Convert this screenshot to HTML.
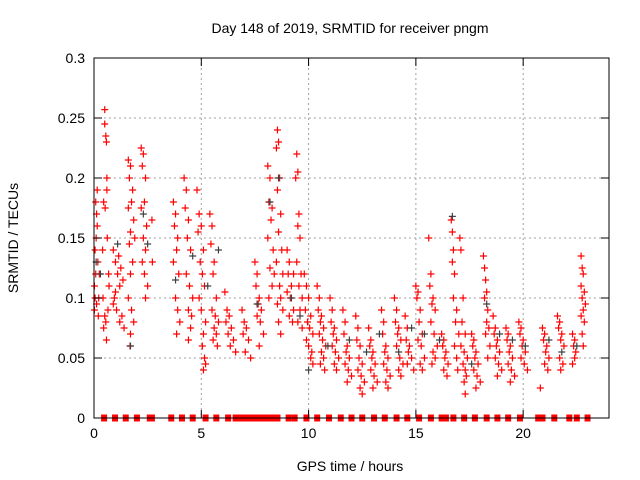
<!DOCTYPE html>
<html><head><meta charset="utf-8"><style>
body{margin:0;background:#fff}
svg{display:block;font-family:"Liberation Sans",sans-serif}
</style></head><body>
<svg id="chart" width="640" height="480" viewBox="0 0 640 480">
<rect width="640" height="480" fill="#fff"/>
<text x="350" y="33" font-size="14" text-anchor="middle">Day 148 of 2019, SRMTID for receiver pngm</text>
<text x="350" y="471" font-size="14" text-anchor="middle">GPS time / hours</text>
<text transform="translate(18,238) rotate(-90)" font-size="14" text-anchor="middle">SRMTID / TECUs</text>
<g id="grid"></g><g id="marks"></g><g id="axes"></g>
</svg>
<script>
const xTicks=[0,5,10,15,20];
const yTicks=[0,0.05,0.1,0.15,0.2,0.25,0.3];
const yTickLabels=["0","0.05","0.1","0.15","0.2","0.25","0.3"];
const redPoints=[
[0.02,0.09],[0.05,0.1],[0.08,0.12],[0.1,0.15],[0.12,0.17],[0.15,0.19],[0.05,0.14],[0.18,0.13],[0.02,0.11],[0.12,0.095],[0.2,0.085],[0.22,0.1],[0.15,0.16],[0.08,0.18],[0.25,0.12],
[0.5,0.257],[0.5,0.245],[0.55,0.235],[0.58,0.23],[0.6,0.2],[0.45,0.18],[0.52,0.175],[0.62,0.15],[0.4,0.14],[0.68,0.12],[0.42,0.1],[0.5,0.085],[0.55,0.08],[0.45,0.075],[0.58,0.065],[0.65,0.09],[0.7,0.11],[0.6,0.19],
[0.9,0.14],[1.0,0.13],[1.1,0.12],[1.2,0.11],[0.95,0.1],[1.05,0.09],[1.3,0.085],[1.2,0.08],[1.4,0.075],[1.35,0.115],[1.25,0.125],[1.15,0.135],[1.0,0.105],[0.9,0.095],
[1.6,0.215],[1.7,0.21],[1.65,0.2],[1.8,0.19],[1.75,0.18],[1.6,0.175],[1.85,0.165],[1.7,0.155],[1.9,0.15],[1.65,0.145],[1.8,0.13],[1.7,0.12],[1.6,0.1],[1.75,0.09],[1.85,0.08],[1.7,0.07],[1.68,0.06],
[2.2,0.225],[2.3,0.22],[2.25,0.21],[2.4,0.2],[2.35,0.18],[2.2,0.175],[2.45,0.16],[2.3,0.15],[2.4,0.14],[2.25,0.13],[2.35,0.12],[2.5,0.11],[2.4,0.1],[2.7,0.165],[2.72,0.13],
[3.7,0.18],[3.8,0.17],[3.75,0.16],[3.9,0.15],[3.85,0.14],[3.7,0.13],[3.95,0.12],[3.8,0.1],[3.9,0.09],[4.0,0.08],[3.85,0.07],
[4.2,0.2],[4.3,0.19],[4.25,0.175],[4.4,0.165],[4.35,0.15],[4.5,0.14],[4.3,0.12],[4.45,0.11],[4.6,0.1],[4.4,0.09],[4.55,0.085],[4.5,0.075],[4.4,0.065],
[4.8,0.19],[4.9,0.17],[5.0,0.16],[4.85,0.155],[5.1,0.14],[4.95,0.13],[5.05,0.12],[5.15,0.11],[4.9,0.1],[5.0,0.09],[5.2,0.08],[5.1,0.07],[5.05,0.06],[5.15,0.05],[5.2,0.045],[5.1,0.04],
[5.4,0.17],[5.5,0.16],[5.45,0.145],[5.6,0.13],[5.55,0.12],[5.7,0.1],[5.5,0.09],[5.65,0.085],[5.8,0.08],[5.6,0.075],[5.7,0.07],[5.55,0.065],[5.75,0.06],
[6.1,0.105],[6.2,0.09],[6.3,0.085],[6.15,0.08],[6.4,0.075],[6.25,0.07],[6.5,0.065],[6.35,0.06],[6.6,0.055],
[6.9,0.09],[7.0,0.08],[7.1,0.075],[6.95,0.07],[7.2,0.065],[7.05,0.055],[7.3,0.05],
[7.5,0.13],[7.6,0.12],[7.55,0.11],[7.7,0.1],[7.65,0.095],[7.8,0.09],[7.6,0.085],[7.75,0.08],[7.9,0.07],[7.7,0.06],
[8.1,0.21],[8.2,0.2],[8.15,0.18],[8.3,0.175],[8.25,0.165],[8.1,0.15],[8.35,0.14],[8.2,0.125],[8.4,0.12],[8.3,0.11],[8.15,0.1],
[8.55,0.24],[8.6,0.23],[8.5,0.225],[8.65,0.2],[8.55,0.19],[8.7,0.17],[8.6,0.155],[8.75,0.14],[8.5,0.13],[8.8,0.12],[8.65,0.11],[8.7,0.1],[8.55,0.095],[8.8,0.09],[8.6,0.08],[8.7,0.07],
[9.0,0.14],[9.1,0.13],[9.05,0.12],[9.2,0.11],[9.15,0.1],[9.3,0.09],[9.1,0.085],[9.25,0.08],[9.3,0.12],[9.0,0.105],
[9.45,0.22],[9.5,0.205],[9.4,0.2],[9.55,0.17],[9.5,0.16],[9.6,0.15],[9.45,0.13],[9.65,0.12],[9.55,0.11],[9.7,0.1],[9.6,0.09],[9.5,0.08],[9.7,0.075],
[9.8,0.12],[9.9,0.11],[10.0,0.1],[9.85,0.09],[10.1,0.085],[9.95,0.08],[10.05,0.075],[10.2,0.07],[9.9,0.065],[10.0,0.06],[10.15,0.055],[10.1,0.05],[10.2,0.045],
[10.4,0.11],[10.5,0.1],[10.45,0.09],[10.6,0.085],[10.55,0.08],[10.7,0.075],[10.5,0.07],[10.65,0.065],[10.8,0.06],[10.6,0.055],[10.7,0.05],[10.55,0.045],[10.75,0.04],
[11.0,0.1],[11.1,0.09],[11.05,0.08],[11.2,0.075],[11.15,0.07],[11.3,0.065],[11.1,0.06],[11.25,0.055],[11.4,0.05],[11.2,0.045],[11.3,0.04],
[11.6,0.09],[11.7,0.08],[11.65,0.07],[11.8,0.06],[11.75,0.055],[11.9,0.05],[11.7,0.045],[11.85,0.04],[12.0,0.035],[11.8,0.03],
[12.2,0.085],[12.3,0.075],[12.25,0.065],[12.4,0.06],[12.35,0.05],[12.5,0.045],[12.3,0.04],[12.45,0.035],[12.6,0.03],[12.4,0.025],[12.5,0.02],
[12.8,0.075],[12.9,0.065],[12.85,0.06],[13.0,0.055],[12.95,0.05],[13.1,0.045],[12.9,0.04],[13.05,0.035],[13.2,0.03],[13.0,0.025],
[13.4,0.09],[13.5,0.08],[13.45,0.07],[13.6,0.06],[13.55,0.055],[13.7,0.05],[13.5,0.045],[13.65,0.04],[13.8,0.035],[13.6,0.03],[13.7,0.025],
[14.0,0.1],[14.1,0.09],[14.05,0.08],[14.2,0.075],[14.15,0.07],[14.3,0.065],[14.1,0.06],[14.25,0.05],[14.4,0.045],[14.2,0.04],[14.3,0.035],
[14.5,0.085],[14.6,0.075],[14.55,0.065],[14.7,0.06],[14.65,0.055],[14.8,0.05],[14.6,0.045],[14.9,0.04],
[15.0,0.11],[15.1,0.105],[15.05,0.1],[15.2,0.09],[15.15,0.08],[15.3,0.07],[15.1,0.065],[15.25,0.06],[15.4,0.05],[15.2,0.045],[15.3,0.04],
[15.6,0.15],[15.7,0.12],[15.65,0.11],[15.8,0.1],[15.75,0.095],[15.9,0.09],[15.7,0.08],[15.85,0.07],[16.0,0.06],[15.8,0.055],[15.9,0.05],[15.75,0.045],
[16.2,0.07],[16.3,0.065],[16.25,0.06],[16.4,0.055],[16.35,0.05],[16.5,0.045],[16.3,0.04],[16.45,0.035],
[16.65,0.165],[16.7,0.155],[16.75,0.14],[16.7,0.13],[16.8,0.12],[16.75,0.1],[16.9,0.09],[16.85,0.08],[17.0,0.07],[16.8,0.06],[16.9,0.05],[16.95,0.04],
[17.05,0.15],[17.1,0.14],[17.2,0.1],[17.15,0.08],[17.3,0.07],[17.1,0.06],[17.25,0.055],[17.4,0.05],[17.2,0.045],[17.3,0.04],[17.35,0.035],[17.25,0.03],[17.3,0.02],
[17.6,0.07],[17.7,0.065],[17.65,0.06],[17.8,0.055],[17.75,0.05],[17.9,0.045],[17.7,0.04],[17.85,0.035],[18.0,0.03],[17.8,0.025],
[18.15,0.135],[18.2,0.125],[18.25,0.115],[18.3,0.105],[18.2,0.1],[18.35,0.09],[18.3,0.08],[18.4,0.075],[18.25,0.07],[18.45,0.06],[18.35,0.05],
[18.6,0.085],[18.7,0.075],[18.65,0.07],[18.8,0.065],[18.75,0.06],[18.9,0.055],[18.7,0.05],[18.85,0.045],[19.0,0.04],[18.8,0.035],
[19.2,0.075],[19.3,0.07],[19.25,0.065],[19.4,0.06],[19.35,0.055],[19.5,0.05],[19.3,0.045],[19.45,0.04],[19.6,0.035],[19.4,0.03],
[19.8,0.08],[19.9,0.075],[19.85,0.07],[20.0,0.065],[19.95,0.06],[20.1,0.055],[19.9,0.05],[20.05,0.045],[20.2,0.04],
[20.9,0.075],[21.0,0.07],[20.95,0.065],[21.1,0.06],[21.05,0.055],[21.2,0.05],[21.0,0.045],[21.15,0.04],[20.8,0.025],
[21.6,0.085],[21.7,0.08],[21.65,0.075],[21.8,0.07],[21.75,0.065],[21.9,0.06],[21.7,0.05],[21.85,0.045],[21.75,0.04],
[22.3,0.07],[22.4,0.065],[22.35,0.06],[22.45,0.055],[22.4,0.05],[22.3,0.045],
[22.7,0.135],[22.75,0.125],[22.8,0.12],[22.7,0.11],[22.85,0.105],[22.75,0.1],[22.9,0.095],[22.8,0.09],[22.7,0.085],[22.85,0.08],[22.75,0.07],[22.8,0.06]
];
const blackPoints=[
[0.1,0.13],[0.3,0.12],[1.1,0.145],[1.7,0.06],[2.3,0.17],[2.5,0.145],[3.8,0.115],[4.6,0.135],[5.3,0.11],[5.8,0.14],[7.6,0.095],[8.2,0.18],[8.6,0.2],[9.2,0.1],[9.6,0.085],[10.0,0.04],[10.9,0.06],
[11.9,0.065],[12.7,0.055],[13.3,0.07],[14.2,0.055],[14.8,0.075],[15.4,0.07],[16.1,0.065],[16.7,0.168],[17.6,0.045],[18.3,0.095],[18.9,0.07],[19.5,0.065],[20.1,0.06],[21.2,0.065],[21.8,0.055],[22.5,0.06]
];
const zeroTimes=[0.47,0.98,1.48,2.0,2.6,2.7,3.6,4.1,4.6,5.2,5.7,6.25,6.6,6.7,6.8,6.9,7.0,7.1,7.2,7.3,7.4,7.5,7.75,7.85,7.95,8.05,8.2,8.3,8.4,8.55,9.07,9.35,9.9,10.4,10.95,11.5,12.0,12.5,13.05,13.55,14.1,14.6,15.15,15.7,16.2,16.4,16.75,17.25,17.75,18.3,18.8,19.3,19.85,20.7,20.9,21.45,22.15,22.5,23.0];

const L=94,R=609,T=58,B=418;
const xs=t=>L+t*(R-L)/24;
const ys=v=>B-v*(B-T)/0.3;
const NS="http://www.w3.org/2000/svg";
function mk(tag,attrs,parent){const e=document.createElementNS(NS,tag);for(const k in attrs)e.setAttribute(k,attrs[k]);parent.appendChild(e);return e;}
const grid=document.getElementById('grid'),marks=document.getElementById('marks'),axes=document.getElementById('axes');
yTicks.forEach((v,i)=>{
  const y=ys(v);
  if(v>0&&v<0.3){const g=mk('line',{x1:L,x2:R,y1:y,y2:y,stroke:'#a0a0a0','stroke-dasharray':'2,3'},grid);
  
  }
  const tk=mk('path',{d:`M${L},${y}h8M${R},${y}h-8`,stroke:'#000'},axes);
  
  
  const tx=mk('text',{x:L-9,y:y+5,'font-size':14,'text-anchor':'end'},axes);tx.textContent=yTickLabels[i];
  
  
});
xTicks.forEach(t=>{
  const x=xs(t);
  if(t>0){const g=mk('line',{x1:x,x2:x,y1:T,y2:B,stroke:'#a0a0a0','stroke-dasharray':'2,3'},grid);
  
  }
  const tk=mk('path',{d:`M${x},${B}v-8M${x},${T}v8`,stroke:'#000'},axes);
  
  
  const tx=mk('text',{x:x,y:B+20,'font-size':14,'text-anchor':'middle'},axes);tx.textContent=String(t);
  
  
});
const frame=mk('rect',{x:L,y:T,width:R-L,height:B-T,fill:'none',stroke:'#000','stroke-width':1},axes);


function plus(t,v,col){
  const x=xs(t),y=ys(v);
  const p=mk('path',{d:`M${x-3.5},${y}h7M${x},${y-3.5}v7`,stroke:col,'stroke-width':1.2},marks);
  return p;
}
redPoints.forEach(([t,v])=>{const p=plus(t,v,'#ff0000');
  
  });
blackPoints.forEach(([t,v])=>{const p=plus(t,v,'#404040');
  
  });
zeroTimes.forEach(t=>{const x=xs(t);
  const r=mk('rect',{x:x-3,y:B-3.5,width:6,height:7,fill:'#ff0000'},marks);
  
  });
</script>
</body></html>
